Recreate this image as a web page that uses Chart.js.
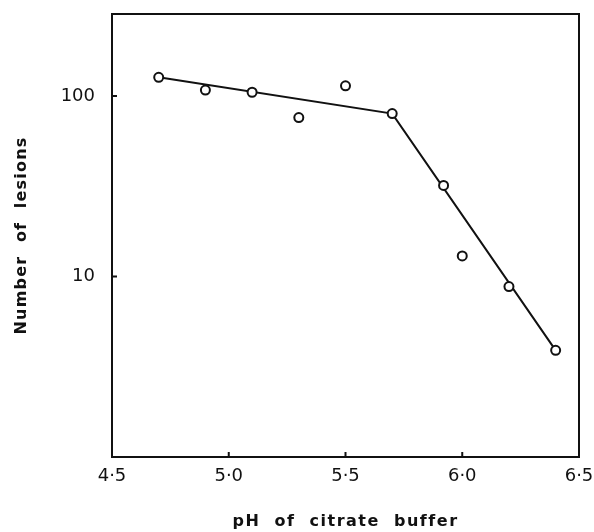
<!DOCTYPE html>
<html><head><meta charset="utf-8">
<script src="https://cdn.jsdelivr.net/npm/chart.js@4"></script>
<style>html,body{margin:0;padding:0;background:#fff}#wrap{width:594px;height:532px}</style>
</head><body><div id="wrap"><canvas id="c" width="594" height="532"></canvas></div>
<script>
// Data
const phValues     = [4.7, 4.9, 5.1, 5.3, 5.5, 5.7, 5.92, 6.0, 6.2, 6.4];
const lesionCounts = [127, 108, 105, 76, 114, 80, 32, 13, 8.8, 3.9];
const fitPh        = [4.7, 5.7, 6.4];
const fitLesions   = [127, 80, 3.9];
const xTickValues  = [4.5, 5.0, 5.5, 6.0, 6.5];
const xTickLabels  = ['4·5', '5·0', '5·5', '6·0', '6·5'];
const yTickValues  = [10, 100];
const yTickLabels  = ['10', '100'];
const xTitle = 'pH  of  citrate  buffer';
const yTitle = 'Number  of  lesions';

const INK = '#111';
const tickFont = {family: 'DejaVu Sans', size: 18, weight: 'normal'};
const titleFont = {family: 'DejaVu Sans', size: 16, weight: 'bold'};

function spacedTitle(spacing) {
  return s => {
    if (s._spacedTitle) return;
    const orig = s.drawTitle.bind(s);
    s.drawTitle = function () {
      s.ctx.save();
      s.ctx.letterSpacing = spacing;
      orig();
      s.ctx.restore();
    };
    s._spacedTitle = true;
  };
}

function fixSize(prop, value) {
  return s => {
    s[prop] = value;
    s.paddingTop = 0; s.paddingBottom = 0; s.paddingLeft = 0; s.paddingRight = 0;
  };
}

const framePlugin = {
  id: 'frame',
  afterDatasetsDraw(chart) {
    const {ctx, chartArea: a, scales} = chart;
    ctx.save();
    ctx.strokeStyle = INK;
    ctx.lineWidth = 2;
    ctx.strokeRect(a.left, a.top, a.right - a.left, a.bottom - a.top);
    ctx.beginPath();
    xTickValues.forEach(v => {
      const px = scales.x.getPixelForValue(v);
      ctx.moveTo(px, a.bottom); ctx.lineTo(px, a.bottom - 5);
    });
    yTickValues.forEach(v => {
      const py = scales.y.getPixelForValue(v);
      ctx.moveTo(a.left, py); ctx.lineTo(a.left + 5, py);
    });
    ctx.stroke();
    ctx.restore();
  }
};

new Chart(document.getElementById('c'), {
  type: 'scatter',
  data: {
    datasets: [
      {
        label: 'observed',
        data: phValues.map((x, i) => ({x, y: lesionCounts[i]})),
        showLine: false,
        pointStyle: 'circle',
        pointRadius: 4.5,
        pointBorderWidth: 2,
        pointBorderColor: INK,
        pointBackgroundColor: '#fff'
      },
      {
        label: 'fit',
        data: fitPh.map((x, i) => ({x, y: fitLesions[i]})),
        showLine: true,
        borderColor: INK,
        borderWidth: 2,
        pointRadius: 0,
        tension: 0
      }
    ]
  },
  plugins: [framePlugin],
  options: {
    responsive: false,
    animation: false,
    devicePixelRatio: 1,
    layout: {autoPadding: false, padding: {left: 0, right: 15, top: 14, bottom: 0}},
    plugins: {legend: {display: false}, tooltip: {enabled: false}},
    scales: {
      x: {
        type: 'linear', min: 4.5, max: 6.5,
        afterBuildTicks: s => { s.ticks = xTickValues.map(v => ({value: v})); },
        afterFit: fixSize('height', 75),
        afterUpdate: spacedTitle('1.5px'),
        grid: {display: false, drawTicks: false},
        border: {display: false},
        ticks: {
          padding: 9, color: INK, font: tickFont, maxRotation: 0, autoSkip: false,
          callback: (v) => { const i = xTickValues.indexOf(v); return i >= 0 ? xTickLabels[i] : ''; }
        },
        title: {display: true, text: xTitle, color: INK, font: titleFont, padding: {top: 0, bottom: 1}}
      },
      y: {
        type: 'logarithmic', min: 1, max: 285,
        afterBuildTicks: s => { s.ticks = yTickValues.map(v => ({value: v})); },
        afterFit: fixSize('width', 112),
        afterUpdate: spacedTitle('1.2px'),
        grid: {display: false, drawTicks: false},
        border: {display: false},
        ticks: {
          padding: 17, color: INK, font: tickFont, autoSkip: false,
          callback: (v) => { const i = yTickValues.indexOf(v); return i >= 0 ? yTickLabels[i] : ''; }
        },
        title: {display: true, text: yTitle, color: INK, font: titleFont, padding: {top: 12, bottom: 0}}
      }
    }
  }
});
</script>
</body></html>
